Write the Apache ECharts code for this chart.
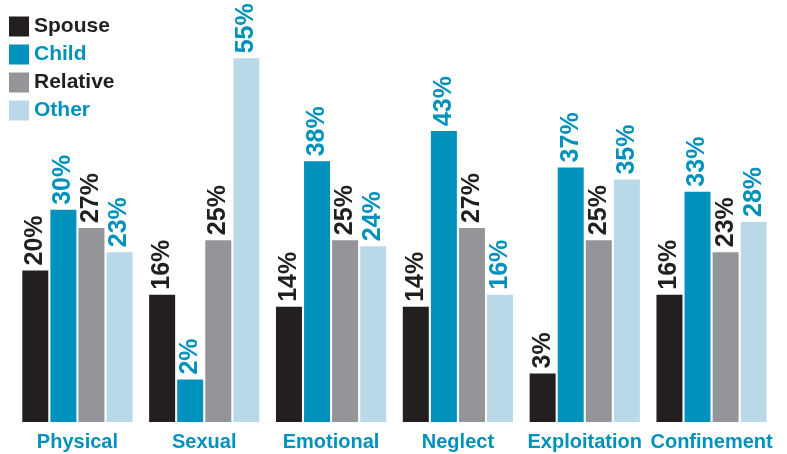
<!DOCTYPE html>
<html>
<head>
<meta charset="utf-8">
<style>
  html, body { margin: 0; padding: 0; background: #fff; }
  #chart { width: 787px; height: 454px; }
</style>
<script src="https://cdn.jsdelivr.net/npm/echarts@6/dist/echarts.min.js"></script>
</head>
<body>
<div id="chart"></div>
<script>
// Abuse types and share of perpetrators (%)
const categories = ["Physical", "Sexual", "Emotional", "Neglect", "Exploitation", "Confinement"]
const spouse = [20, 16, 14, 14, 3, 16]
const child = [30, 2, 38, 43, 37, 33]
const relative = [27, 25, 25, 27, 25, 23]
const other = [23, 55, 24, 16, 35, 28]

const DARK = "#231f20"
const BLUE = "#0091bc"
const GREY = "#939598"
const LIGHT = "#b9d9e8"

const chart = echarts.init(document.getElementById("chart"))

function barSeries(name, data, color, labelColor) {
    return {
        name: name,
        type: "bar",
        data: data,
        barWidth: 26,
        barGap: "8%",
        itemStyle: { color: color },
        label: {
            show: true,
            position: "top",
            rotate: 90,
            align: "left",
            verticalAlign: "middle",
            distance: 5,
            formatter: "{c}%",
            color: labelColor,
            fontFamily: "Liberation Sans",
            fontWeight: "bold",
            fontSize: 25,
        },
    }
}

const option = {
    animation: false,
    backgroundColor: "#fff",
    textStyle: { fontFamily: "Liberation Sans" },
    legend: {
        orient: "vertical",
        left: 9,
        top: 16,
        padding: 0,
        itemWidth: 20,
        itemHeight: 20,
        itemGap: 7,
        icon: "rect",
        selectedMode: false,
        textStyle: { fontSize: 21, fontWeight: "bold", lineHeight: 20, color: DARK },
        data: [
            { name: "Spouse", textStyle: { color: DARK } },
            { name: "Child", textStyle: { color: BLUE } },
            { name: "Relative", textStyle: { color: DARK } },
            { name: "Other", textStyle: { color: BLUE } },
        ],
    },
    grid: {
        left: 14,
        right: 12,
        top: 28,
        bottom: 32,
    },
    xAxis: {
        type: "category",
        data: categories,
        axisLine: { show: false },
        axisTick: { show: false },
        axisLabel: {
            interval: 0,
            color: BLUE,
            fontWeight: "bold",
            fontSize: 20,
            margin: 10,
        },
    },
    yAxis: {
        type: "value",
        min: -5,
        max: 60,
        startValue: -5,
        show: false,
        splitLine: { show: false },
    },
    series: [
        barSeries("Spouse", spouse, DARK, DARK),
        barSeries("Child", child, BLUE, BLUE),
        barSeries("Relative", relative, GREY, DARK),
        barSeries("Other", other, LIGHT, BLUE),
    ],
}

chart.setOption(option)

window.addEventListener("resize", () => {
    chart.resize()
})
</script>
</body>
</html>
